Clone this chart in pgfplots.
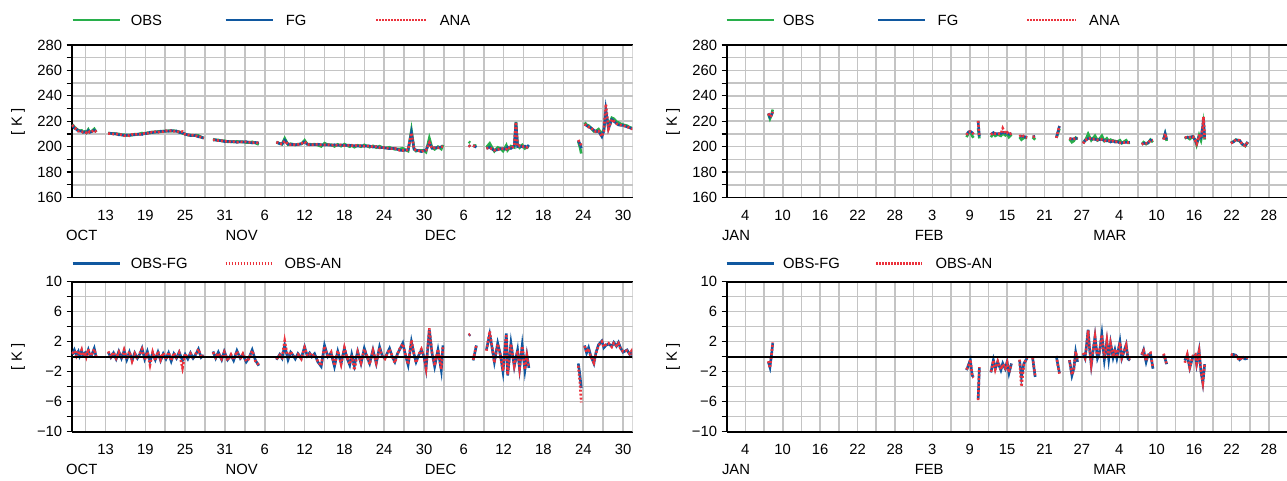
\documentclass[border=0pt]{standalone}
\usepackage{pgfplots}
\pgfplotsset{compat=1.18}
\usepackage{pgfplotstable}
\usepackage{fontspec}
\setmainfont{Liberation Sans}
\newcommand\fs{\fontsize{14.8bp}{17bp}\selectfont}
\definecolor{obsg}{RGB}{40,175,75}
\definecolor{fgb}{RGB}{16,88,160}
\definecolor{anar}{RGB}{235,50,60}
\definecolor{gridg}{RGB}{196,196,196}

% ---------------- data: left (Oct-Dec), day 0 = 1 Oct ----------------
\pgfplotstableread{
d obs fg ana
7.0 217.5 217.2 217.1
7.3 215.5 214.6 214.7
7.6 214.0 213.8 213.9
7.9 213.0 212.3 212.2
8.1 212.5 212.4 212.3
8.4 212.8 212.0 211.9
8.6 211.5 211.3 211.4
8.9 212.0 211.5 211.4
9.1 211.0 210.9 211.0
9.4 213.5 212.6 212.5
9.6 211.5 211.2 211.3
9.9 212.0 211.8 211.7
10.3 214.0 212.9 213.0
10.6 211.5 211.6 211.5
nan nan nan nan
12.4 210.9 210.3 210.2
12.8 210.4 210.5 210.4
13.2 210.5 210.0 209.9
13.6 209.9 210.2 210.1
14.0 210.0 209.3 209.4
14.4 209.2 209.4 209.5
14.8 209.5 208.7 208.6
15.2 208.8 209.2 209.1
15.6 209.3 208.7 208.6
16.0 209.0 209.5 209.6
16.4 209.8 209.3 209.4
16.8 209.6 209.8 209.9
17.2 210.2 209.8 209.7
17.5 210.7 209.6 209.7
17.9 210.2 210.5 210.6
18.3 211.0 210.3 210.4
18.7 210.7 211.3 211.8
19.1 211.6 211.1 211.0
19.5 211.3 211.7 211.8
19.9 212.0 211.4 211.3
20.3 211.7 212.2 212.1
20.7 212.3 211.9 211.8
21.1 212.1 212.4 212.5
21.5 212.6 212.1 212.0
21.9 212.1 212.7 212.6
22.3 212.6 212.2 212.1
22.7 212.1 212.3 212.4
23.1 211.8 211.2 211.3
23.6 210.4 210.9 211.9
24.0 210.0 209.7 209.6
24.4 209.1 209.4 209.3
24.8 209.2 208.7 208.8
25.2 208.7 208.9 209.0
25.6 209.0 208.7 208.6
26.0 208.8 207.8 207.8
26.4 207.5 207.6 207.5
26.8 206.8 206.6 206.7
nan nan nan nan
28.2 205.9 205.2 205.3
28.6 205.2 205.4 205.3
29.0 205.3 204.7 204.8
29.5 204.4 204.8 204.7
29.9 204.7 204.0 204.1
30.4 203.8 204.2 204.3
30.9 204.0 203.8 203.7
31.3 203.6 204.1 204.0
31.8 204.2 203.4 203.5
32.3 203.7 203.9 204.0
32.7 203.9 203.6 203.5
33.2 203.2 203.9 203.8
33.6 203.3 203.5 203.6
34.1 203.8 202.9 203.0
34.6 202.8 203.3 203.4
35.1 201.7 202.9 202.8
nan nan nan nan
37.75 203.3 203.7 203.6
38.25 202.6 202.3 202.4
38.6 201.9 202.1 202.0
39.0 206.5 205.0 204.4
39.5 201.6 202.0 201.9
39.9 202.3 201.7 201.6
40.25 201.9 201.7 201.8
40.6 201.3 201.6 201.5
41.0 202.0 201.6 201.7
41.5 202.1 202.3 202.4
42.0 205.0 203.7 203.8
42.4 202.0 201.9 201.8
42.75 202.0 201.5 201.6
43.1 201.6 201.6 201.5
43.5 202.0 201.6 201.7
44.0 201.2 201.9 201.8
44.5 200.2 201.5 201.4
45.0 202.8 201.3 201.4
45.5 201.5 201.5 201.6
46.0 201.6 201.1 201.0
46.5 200.2 201.5 201.4
47.0 201.8 201.1 201.0
47.5 200.4 201.3 201.4
48.0 202.0 200.9 200.8
48.4 200.9 201.1 201.0
48.8 200.0 201.1 201.0
49.1 201.0 200.7 200.8
49.5 199.6 200.8 201.4
50.0 201.1 200.4 200.5
50.5 199.9 200.8 200.7
51.0 201.4 200.3 200.4
51.4 200.5 200.5 200.4
51.8 199.6 200.5 200.6
52.3 200.6 199.7 199.8
52.8 199.2 200.1 200.0
53.3 200.4 199.1 199.2
53.7 199.4 199.3 199.4
54.1 198.9 199.1 199.2
54.8 199.5 198.4 198.5
55.2 198.6 198.6 198.5
55.6 197.9 198.6 198.7
56.0 198.2 197.8 197.9
56.3 198.2 197.3 197.2
56.8 198.7 196.9 197.0
57.2 197.5 197.3 197.2
57.6 196.5 197.6 197.5
58.1 213.0 211.0 210.8
58.5 198.2 197.9 198.0
58.8 196.5 197.2 197.3
59.2 197.1 196.9 196.8
59.6 197.0 196.1 196.0
60.0 197.0 197.0 197.1
60.3 195.7 197.3 197.2
60.8 206.8 203.2 203.0
61.2 199.3 198.8 198.7
61.6 197.9 199.2 199.1
62.1 200.0 199.1 199.0
62.6 198.1 199.9 199.8
62.85 201.3 199.8 199.9
nan nan nan nan
66.75 204.0 201.2 201.1
66.95 203.0 200.0 200.0
nan nan nan nan
67.4 200.5 201.0 200.9
67.9 201.0 199.5 199.4
nan nan nan nan
69.4 199.5 198.6 198.7
69.9 202.6 199.6 199.2
70.2 199.8 198.3 198.2
70.6 196.4 197.1 197.2
71.1 199.4 197.6 197.7
71.5 198.6 198.3 198.4
71.9 196.5 198.5 198.4
72.4 201.0 197.9 198.0
72.6 197.2 199.7 199.6
73.1 200.4 198.6 198.7
73.6 199.4 200.7 200.6
73.85 219.5 219.0 219.3
74.1 201.0 200.1 200.2
74.4 199.2 200.8 200.7
74.8 201.3 199.8 199.9
75.2 198.6 200.4 200.3
75.5 199.6 199.4 199.5
75.8 199.8 201.3 201.2
nan nan nan nan
83.25 204.0 204.9 205.2
83.5 199.5 202.0 203.0
83.7 194.6 198.8 200.7
nan nan nan nan
84.2 219.0 217.5 217.6
84.5 217.2 216.7 216.6
84.8 216.6 215.4 215.5
85.1 215.1 214.9 215.0
85.6 212.0 212.9 212.8
85.9 212.2 211.7 211.8
86.3 213.8 212.2 212.3
86.8 210.0 207.9 208.0
87.1 213.6 212.4 212.3
87.4 227.5 229.0 233.5
87.8 215.9 214.2 214.1
88.3 222.7 221.3 221.4
88.6 222.0 220.1 220.2
89.0 219.7 218.3 218.2
89.3 219.0 217.1 217.2
89.6 218.1 216.9 217.0
90.0 217.3 216.7 216.6
90.6 216.5 215.6 215.7
91.0 215.2 214.9 214.8
91.3 214.8 214.2 214.0
91.6 213.9 214.2 214.1
}\topleft

\pgfplotstableread{
d omf oma
7.0 0.3 0.4
7.3 0.9 0.8
7.6 0.2 0.1
7.9 0.7 0.8
8.1 0.1 0.2
8.4 0.8 0.9
8.6 0.2 0.1
8.9 0.5 0.6
9.1 0.1 0.0
9.4 0.9 1.0
9.6 0.3 0.2
9.9 0.2 0.3
10.3 1.1 1.0
10.6 -0.1 0.0
nan nan nan
12.4 0.6 0.7
12.8 -0.1 0.0
13.2 0.5 0.6
13.6 -0.3 -0.2
14.0 0.7 0.6
14.4 -0.2 -0.3
14.8 0.8 0.9
15.2 -0.4 -0.3
15.6 0.6 0.7
16.0 -0.5 -0.6
16.4 0.5 0.4
16.8 -0.2 -0.3
17.2 0.4 0.5
17.5 1.1 1.0
17.9 -0.3 -0.4
18.3 0.7 0.6
18.7 -0.6 -1.1
19.1 0.5 0.6
19.5 -0.4 -0.5
19.9 0.6 0.7
20.3 -0.5 -0.4
20.7 0.4 0.5
21.1 -0.3 -0.4
21.5 0.5 0.6
21.9 -0.6 -0.5
22.3 0.4 0.5
22.7 -0.2 -0.3
23.1 0.6 0.5
23.6 -0.5 -1.5
24.0 0.3 0.4
24.4 -0.3 -0.2
24.8 0.5 0.4
25.2 -0.2 -0.3
25.6 0.3 0.4
26.0 1.0 1.0
26.4 -0.1 0.0
26.8 0.2 0.1
nan nan nan
28.2 0.7 0.6
28.6 -0.2 -0.1
29.0 0.6 0.5
29.5 -0.4 -0.3
29.9 0.7 0.6
30.4 -0.4 -0.5
30.9 0.2 0.3
31.3 -0.5 -0.4
31.8 0.8 0.7
32.3 -0.2 -0.3
32.7 0.3 0.4
33.2 -0.7 -0.6
33.6 -0.2 -0.3
34.1 0.9 0.8
34.6 -0.5 -0.6
35.1 -1.2 -1.1
nan nan nan
37.75 -0.4 -0.3
38.25 0.3 0.2
38.6 -0.2 -0.1
39.0 1.5 2.1
39.5 -0.4 -0.3
39.9 0.6 0.7
40.25 0.2 0.1
40.6 -0.3 -0.2
41.0 0.4 0.3
41.5 -0.2 -0.3
42.0 1.3 1.2
42.4 0.1 0.2
42.75 0.5 0.4
43.1 0.0 0.1
43.5 0.4 0.3
44.0 -0.7 -0.6
44.5 -1.3 -1.2
45.0 1.5 1.4
45.5 0.0 -0.1
46.0 0.5 0.6
46.5 -1.3 -1.2
47.0 0.7 0.8
47.5 -0.9 -1.0
48.0 1.1 1.2
48.4 -0.2 -0.1
48.8 -1.1 -1.0
49.1 0.3 0.2
49.5 -1.2 -1.8
50.0 0.7 0.6
50.5 -0.9 -0.8
51.0 1.1 1.0
51.4 0.0 0.1
51.8 -0.9 -1.0
52.3 0.9 0.8
52.8 -0.9 -0.8
53.3 1.3 1.2
53.7 0.1 0.0
54.1 -0.2 -0.3
54.8 1.1 1.0
55.2 0.0 0.1
55.6 -0.7 -0.8
56.0 0.4 0.3
56.3 0.9 1.0
56.8 1.8 1.7
57.2 0.2 0.3
57.6 -1.1 -1.0
58.1 2.0 2.2
58.5 0.3 0.2
58.8 -0.7 -0.8
59.2 0.2 0.3
59.6 0.9 1.0
60.0 0.0 -0.1
60.3 -1.6 -1.5
60.8 3.6 3.8
61.2 0.5 0.6
61.6 -1.3 -1.2
62.1 0.9 1.0
62.6 -1.8 -1.7
62.85 1.5 1.4
nan nan nan
66.75 2.8 2.9
66.95 3.0 3.0
nan nan nan
67.4 -0.5 -0.4
67.9 1.5 1.6
nan nan nan
69.4 0.9 0.8
69.9 3.0 3.4
70.2 1.5 1.6
70.6 -0.7 -0.8
71.1 1.8 1.7
71.5 0.3 0.2
71.9 -2.0 -1.9
72.4 3.1 3.0
72.6 -2.5 -2.4
73.1 1.8 1.7
73.6 -1.3 -1.2
74.1 0.9 0.8
74.4 -1.6 -1.5
74.8 1.5 1.4
75.2 -1.8 -1.7
75.5 0.2 0.1
75.8 -1.5 -1.4
nan nan nan
83.25 -0.9 -1.2
83.5 -2.5 -3.5
83.7 -4.2 -6.1
nan nan nan
84.2 1.5 1.4
84.5 0.5 0.6
84.8 1.2 1.1
85.1 0.2 0.1
85.6 -0.9 -0.8
85.9 0.5 0.4
86.3 1.6 1.5
86.8 2.1 2.0
87.1 1.2 1.3
87.4 1.5 1.6
87.8 1.7 1.8
88.3 1.4 1.3
88.6 1.9 1.8
89.0 1.4 1.5
89.3 1.9 1.8
89.6 1.2 1.1
90.0 0.6 0.7
90.6 0.9 0.8
91.0 0.3 0.4
91.3 0.6 0.8
91.6 -0.3 -0.2
}\botleft

% ---------------- data: right (Jan-Mar), day 0 = 1 Jan ----------------
\pgfplotstableread{
d obs fg ana
6.7 225.5 226.2 226.1
6.95 222.0 223.4 223.5
7.2 225.0 224.8 224.7
7.4 229.2 227.4 227.3
nan nan nan nan
38.5 207.5 209.3 209.2
38.8 210.5 211.6 211.7
39.1 211.5 212.0 211.9
39.4 208.5 211.0 211.1
39.6 207.0 209.7 209.8
nan nan nan nan
40.35 214.5 220.2 220.3
40.55 206.5 208.0 207.9
nan nan nan nan
42.4 207.5 209.6 209.5
42.8 210.5 211.0 211.0
43.1 208.5 210.1 210.2
43.5 209.5 210.2 210.1
44.0 208.5 210.3 210.2
44.3 210.5 211.4 214.5
44.7 209.0 210.6 210.5
45.0 210.5 211.2 211.3
45.3 207.5 209.7 209.6
45.7 209.5 210.4 210.5
nan nan nan nan
47.0 207.5 208.0 207.9
47.3 205.5 208.2 209.5
47.7 207.0 207.9 208.0
48.2 207.0 207.2 207.1
nan nan nan nan
49.1 207.5 207.7 207.6
49.5 205.5 208.2 208.1
nan nan nan nan
52.9 207.0 207.0 206.9
53.4 214.0 216.2 216.3
nan nan nan nan
55.0 206.0 206.5 206.5
55.4 203.5 206.0 205.9
55.7 204.5 206.1 206.2
56.0 207.0 206.4 206.3
56.3 206.0 206.7 206.6
nan nan nan nan
57.2 203.0 202.6 202.5
57.5 204.8 205.0 204.9
57.7 206.5 205.3 205.4
58.0 210.0 206.4 206.5
58.2 208.0 206.7 206.6
58.5 205.0 206.1 206.0
59.1 208.5 205.8 205.9
59.5 205.0 205.2 205.3
59.8 206.0 205.5 205.4
60.2 208.5 205.5 205.6
60.6 204.5 204.9 204.8
61.0 206.5 204.5 204.4
61.3 204.5 204.8 204.7
61.6 205.5 203.7 203.8
62.0 204.5 204.6 204.5
62.3 204.5 203.6 203.5
62.6 203.8 204.0 203.9
63.1 205.0 203.0 203.1
63.4 202.8 203.0 202.9
64.1 205.0 203.4 203.5
64.4 203.0 203.3 203.2
64.7 203.0 203.5 203.4
nan nan nan nan
66.6 202.0 201.8 201.7
66.9 203.5 202.6 202.7
67.3 202.0 202.7 202.6
67.6 203.0 202.8 202.7
68.0 205.5 205.1 205.0
68.4 203.5 205.1 205.0
nan nan nan nan
70.1 206.0 205.7 205.6
70.35 210.0 210.3 210.2
70.6 204.5 205.5 205.6
nan nan nan nan
73.5 206.5 207.0 207.3
73.9 207.5 207.3 207.2
74.3 206.0 207.5 207.4
74.8 208.0 208.0 207.9
75.2 205.0 204.8 204.7
75.4 201.5 202.5 202.4
75.8 209.0 208.2 208.3
76.1 205.0 207.0 206.9
76.4 213.0 216.5 216.4
76.5 217.0 222.5 223.5
76.7 205.5 206.5 206.4
nan nan nan nan
80.9 203.0 202.8 202.7
81.3 204.0 203.7 203.8
81.7 205.5 205.3 205.4
82.3 204.5 204.9 205.0
82.7 202.0 202.1 202.0
83.2 200.5 200.8 200.7
83.6 203.5 203.7 203.6
}\topright

\pgfplotstableread{
d omf oma
6.7 -0.7 -0.6
6.95 -1.4 -1.5
7.2 0.2 0.3
7.4 1.8 1.9
nan nan nan
38.5 -1.8 -1.7
38.8 -1.1 -1.2
39.1 -0.45 -0.4
39.4 -2.5 -2.6
39.6 -2.7 -2.8
nan nan nan
40.35 -5.7 -5.8
40.55 -1.5 -1.4
nan nan nan
42.4 -2.1 -2.0
42.8 -0.45 -0.5
43.1 -1.6 -1.7
43.5 -0.7 -0.6
44.0 -1.8 -1.7
44.3 -0.9 -1.0
44.7 -1.6 -1.5
45.0 -0.7 -0.8
45.3 -2.2 -2.1
45.7 -0.9 -1.0
nan nan nan
47.0 -0.45 -0.4
47.3 -2.7 -4.0
47.7 -0.9 -1.0
48.2 -0.2 -0.1
nan nan nan
49.1 -0.2 -0.1
49.5 -2.7 -2.6
nan nan nan
52.9 0.0 0.1
53.4 -2.2 -2.3
nan nan nan
55.0 -0.45 -0.5
55.4 -2.5 -2.4
55.7 -1.6 -1.7
56.0 0.6 0.7
56.3 -0.7 -0.6
nan nan nan
57.2 0.4 0.5
57.5 -0.2 -0.1
57.7 1.2 1.1
58.0 3.6 3.5
58.2 1.3 1.4
58.5 -1.1 -1.0
59.1 2.7 2.6
59.5 -0.2 -0.3
59.8 0.5 0.6
60.2 3.0 2.9
60.6 -0.4 -0.3
61.0 2.0 2.1
61.3 -0.3 -0.2
61.6 1.8 1.7
62.0 -0.1 0.0
62.3 0.9 1.0
62.6 -0.2 -0.1
63.1 2.0 1.9
63.4 -0.2 -0.1
64.1 1.6 1.5
64.4 -0.3 -0.2
64.7 -0.5 -0.4
nan nan nan
66.6 0.2 0.3
66.9 0.9 0.8
67.3 -0.7 -0.6
67.6 0.2 0.3
68.0 0.4 0.5
68.4 -1.6 -1.5
nan nan nan
70.1 0.3 0.4
70.35 -0.3 -0.2
70.6 -1.0 -1.1
nan nan nan
73.5 -0.5 -0.8
73.9 0.2 0.3
74.3 -1.5 -1.4
74.8 0.0 0.1
75.2 0.2 0.3
75.4 -1.0 -0.9
75.8 0.8 0.7
76.1 -2.0 -1.9
76.4 -3.5 -3.4
76.7 -1.0 -0.9
nan nan nan
80.9 0.2 0.3
81.3 0.3 0.2
81.7 0.2 0.1
82.3 -0.4 -0.5
82.7 -0.1 0.0
83.2 -0.3 -0.2
83.6 -0.2 -0.1
}\botright

\pgfplotsset{
  panel/.style={
    scale only axis, width=561bp,
    axis x line*=box, axis y line*=left,
    axis line style={black, line width=1.8bp, -},
    grid=both,
    major grid style={draw=gridg, line width=1.6bp},
    minor grid style={draw=gridg, line width=1.6bp},
    xtick align=inside,
    ytick align=outside,
    x tick style={draw=none},
    y tick style={black, line width=1.2bp},
    major tick length=5bp, minor tick length=5bp,
    tick label style={font=\fs},
    xticklabel style={anchor=base, yshift=-23bp},
    yticklabel style={xshift=-1bp},
    unbounded coords=jump,
  },
  leftp/.style={xmin=6.9, xmax=91.45, xtick={12,18,...,90},
    xticklabels={13,19,25,31,6,12,18,24,30,6,12,18,24,30},
    minor xtick={9,15,...,87}},
  rightp/.style={xmin=0, xmax=90, xtick={3,9,...,87},
    xticklabels={4,10,16,22,28,3,9,15,21,27,4,10,16,22,28},
    minor xtick={6,12,...,84}},
  toppanel/.style={height=152.5bp, ymin=160, ymax=280, ytick={160,180,...,280},
    yticklabels={160,180,200,220,240,260,280}, minor ytick={170,190,...,270}},
  botpanel/.style={height=150bp, ymin=-10, ymax=10, ytick={-10,-6,-2,2,6,10},
    yticklabels={−10,−6,−2,2,6,10}, minor ytick={-8,-4,0,4,8}},
  obsl/.style={draw=obsg, line width=2.6bp},
  fgl/.style={draw=fgb, line width=2.6bp},
  anal/.style={draw=anar, line width=2.6bp, dash pattern=on 2bp off 2bp},
}

\begin{document}
\begin{tikzpicture}[x=1bp,y=1bp]
\useasboundingbox (0,0) rectangle (1287,481);

% top left
\begin{axis}[panel, leftp, toppanel, at={(71.7bp,283.5bp)}, anchor=south west]
\addplot[obsl] table[x=d,y=obs] {\topleft};
\addplot[fgl] table[x=d,y=fg] {\topleft};
\addplot[anal] table[x=d,y=ana] {\topleft};
\draw[gridg, line width=1.6bp] (rel axis cs:1,0) -- (rel axis cs:1,1);
\end{axis}

% bottom left
\begin{axis}[panel, leftp, botpanel, at={(71.7bp,49.3bp)}, anchor=south west]
\addplot[fgl] table[x=d,y=omf] {\botleft};
\addplot[anal] table[x=d,y=oma] {\botleft};
\addplot[black, line width=2.2bp] coordinates {(6.9,0) (91.45,0)};
\draw[gridg, line width=1.6bp] (rel axis cs:1,0) -- (rel axis cs:1,1);
\end{axis}

% top right
\begin{axis}[panel, rightp, toppanel, at={(726.6bp,283.5bp)}, anchor=south west]
\addplot[obsl] table[x=d,y=obs] {\topright};
\addplot[fgl] table[x=d,y=fg] {\topright};
\addplot[anal] table[x=d,y=ana] {\topright};
\draw[gridg, line width=1.6bp] (rel axis cs:1,0) -- (rel axis cs:1,1);
\end{axis}

% bottom right
\begin{axis}[panel, rightp, botpanel, at={(726.6bp,49.3bp)}, anchor=south west]
\addplot[fgl] table[x=d,y=omf] {\botright};
\addplot[anal] table[x=d,y=oma] {\botright};
\addplot[black, line width=2.2bp] coordinates {(0,0) (90,0)};
\draw[gridg, line width=1.6bp] (rel axis cs:1,0) -- (rel axis cs:1,1);
\end{axis}

% legends
\begin{scope}[every node/.style={font=\fs, anchor=west, inner sep=0pt}]
\draw[obsg, line width=2.5bp] (72.7,461) -- (120,461);
\node at (130.6,461) {OBS};
\draw[fgb, line width=2.5bp] (225.7,461) -- (272.7,461);
\node at (285.7,461) {FG};
\draw[anar, line width=2.5bp, dash pattern=on 1.6bp off 1.4bp] (376,461) -- (425.7,461);
\node at (439.6,461) {ANA};

\draw[obsg, line width=2.5bp] (726.6,461) -- (773.6,461);
\node at (783,461) {OBS};
\draw[fgb, line width=2.5bp] (878,461) -- (925,461);
\node at (937.5,461) {FG};
\draw[anar, line width=2.5bp, dash pattern=on 1.6bp off 1.4bp] (1027,461) -- (1076,461);
\node at (1089,461) {ANA};

\draw[fgb, line width=2.5bp] (72.7,217.7) -- (120,217.7);
\node at (130.6,217.7) {OBS-FG};
\draw[anar, line width=2.5bp, dash pattern=on 1.6bp off 1.4bp] (225.7,217.7) -- (271.4,217.7);
\node at (284.5,217.7) {OBS-AN};

\draw[fgb, line width=2.5bp] (726.6,217.7) -- (773.6,217.7);
\node at (783,217.7) {OBS-FG};
\draw[anar, line width=2.5bp, dash pattern=on 1.6bp off 1.4bp] (876.4,217.7) -- (922.2,217.7);
\node at (935.3,217.7) {OBS-AN};
\end{scope}

% y labels
\begin{scope}[every node/.style={font=\fs, rotate=90, anchor=center}]
\node at (18,359) {[ K ]};
\node at (18,124) {[ K ]};
\node at (673,359) {[ K ]};
\node at (673,124) {[ K ]};
\end{scope}

% month labels
\begin{scope}[every node/.style={font=\fs, anchor=base}]
\node at (81.7,240.5) {OCT};
\node at (241.6,240.5) {NOV};
\node at (440.6,240.5) {DEC};
\node at (736,240.5) {JAN};
\node at (929.2,240.5) {FEB};
\node at (1109.9,240.5) {MAR};
\node at (81.7,6) {OCT};
\node at (241.6,6) {NOV};
\node at (440.6,6) {DEC};
\node at (736,6) {JAN};
\node at (929.2,6) {FEB};
\node at (1109.9,6) {MAR};
\end{scope}
\end{tikzpicture}
\end{document}
